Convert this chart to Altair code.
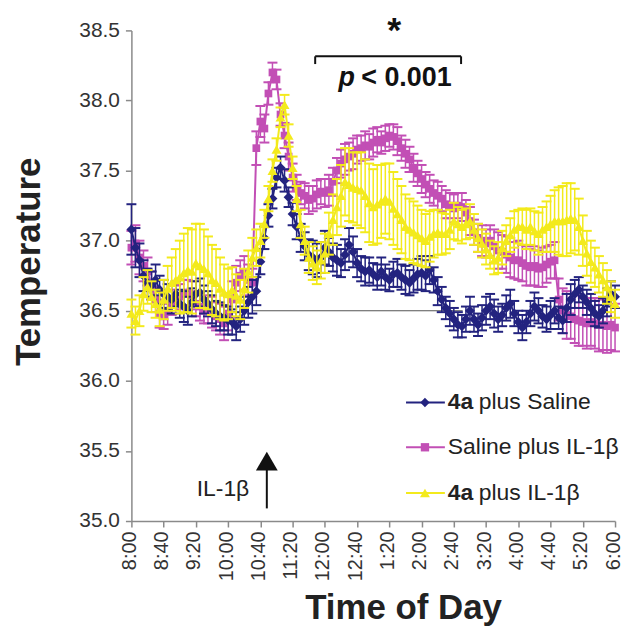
import altair as alt
import pandas as pd

# ---------------- data ----------------
minutes = list(range(0, 601, 5))          # minutes after 8:00, every 5 min
tick_minutes = list(range(0, 601, 40))
tick_labels = ["8:00", "8:40", "9:20", "10:00", "10:40", "11:20", "12:00", "12:40",
               "1:20", "2:00", "2:40", "3:20", "4:00", "4:40", "5:20", "6:00"]
y_ticks = [35.0, 35.5, 36.0, 36.5, 37.0, 37.5, 38.0, 38.5]

series_names = ["Saline plus IL-1β", "4a plus Saline", "4a plus IL-1β"]
series_colors = ["#c24fb5", "#23237f", "#f3ea1c"]
series_shapes = ["square", "diamond", "triangle-up"]
series_sizes = [60, 100, 100]

navy = [37.08, 36.95, 36.86, 36.75, 36.70, 36.68, 36.72, 36.65, 36.62, 36.60,
        36.58, 36.62, 36.55, 36.53, 36.50, 36.56, 36.62, 36.63, 36.58, 36.55,
        36.51, 36.48, 36.46, 36.45, 36.43, 36.42, 36.39, 36.44, 36.50, 36.56,
        36.60, 36.64, 36.85, 37.02, 37.18, 37.30, 37.45, 37.52, 37.43, 37.31,
        37.19, 37.10, 37.02, 36.96, 36.90, 36.88, 36.86, 36.88, 36.95, 36.92,
        36.88, 36.86, 36.84, 36.90, 36.97, 36.92, 36.84, 36.80, 36.78, 36.79,
        36.76, 36.74, 36.78, 36.74, 36.72, 36.76, 36.77, 36.74, 36.72, 36.70,
        36.73, 36.76, 36.77, 36.75, 36.79, 36.72, 36.64, 36.58, 36.52, 36.48,
        36.44, 36.40, 36.39, 36.44, 36.50, 36.44, 36.40, 36.45, 36.50, 36.53,
        36.48, 36.44, 36.47, 36.52, 36.55, 36.48, 36.42, 36.38, 36.42, 36.48,
        36.53, 36.50, 36.46, 36.44, 36.47, 36.50, 36.45, 36.43, 36.52, 36.58,
        36.62, 36.65, 36.60, 36.56, 36.52, 36.48, 36.46, 36.50, 36.56, 36.62, 36.60]
navy_err = [0.18, 0.14, 0.12, 0.11, 0.10, 0.10, 0.11, 0.10, 0.10, 0.09,
            0.10, 0.09, 0.10, 0.11, 0.10, 0.10, 0.09, 0.10, 0.10, 0.09,
            0.10, 0.09, 0.10, 0.09, 0.10, 0.09, 0.10, 0.09, 0.10, 0.11,
            0.12, 0.10, 0.09, 0.08, 0.08, 0.07, 0.07, 0.08, 0.08, 0.07,
            0.08, 0.09, 0.10, 0.10, 0.11, 0.12, 0.12, 0.11, 0.12, 0.10,
            0.10, 0.11, 0.10, 0.11, 0.12, 0.11, 0.10, 0.09, 0.10, 0.09,
            0.08, 0.09, 0.10, 0.09, 0.08, 0.09, 0.10, 0.09, 0.10, 0.09,
            0.10, 0.11, 0.12, 0.11, 0.10, 0.09, 0.10, 0.09, 0.08, 0.09,
            0.08, 0.09, 0.08, 0.09, 0.10, 0.09, 0.08, 0.09, 0.10, 0.09,
            0.10, 0.09, 0.08, 0.09, 0.10, 0.09, 0.08, 0.09, 0.08, 0.09,
            0.10, 0.09, 0.08, 0.09, 0.10, 0.09, 0.08, 0.09, 0.10, 0.11,
            0.10, 0.09, 0.08, 0.09, 0.10, 0.09, 0.08, 0.09, 0.10, 0.09, 0.08]

pink = [36.95, 36.98, 36.88, 36.82, 36.78, 36.68, 36.58, 36.48, 36.46, 36.50,
        36.56, 36.58, 36.60, 36.62, 36.63, 36.61, 36.55, 36.53, 36.50, 36.51,
        36.49, 36.46, 36.44, 36.41, 36.48, 36.58, 36.70, 36.75, 36.77, 36.72,
        36.70, 37.66, 37.85, 37.80, 38.05, 38.20, 38.15, 37.90, 37.75, 37.60,
        37.45, 37.38, 37.34, 37.32, 37.29, 37.30, 37.33, 37.35, 37.34, 37.36,
        37.42, 37.50, 37.55, 37.58, 37.60, 37.62, 37.65, 37.66, 37.68, 37.67,
        37.70, 37.72, 37.70, 37.73, 37.75, 37.74, 37.71, 37.66, 37.62, 37.58,
        37.52, 37.48, 37.44, 37.40, 37.37, 37.34, 37.32, 37.30, 37.26, 37.25,
        37.23, 37.25, 37.24, 37.20, 37.14, 37.06, 37.02, 37.00, 36.98, 37.00,
        36.96, 36.93, 36.92, 36.90, 36.88, 36.86, 36.86, 36.84, 36.82, 36.81,
        36.82, 36.80, 36.81, 36.83, 36.85, 36.86, 36.58, 36.50, 36.47, 36.46,
        36.44, 36.43, 36.42, 36.41, 36.42, 36.41, 36.40, 36.40, 36.39, 36.40, 36.38]
pink_err = [0.12, 0.13, 0.12, 0.11, 0.10, 0.10, 0.09, 0.10, 0.09, 0.10,
            0.09, 0.10, 0.09, 0.10, 0.09, 0.10, 0.09, 0.10, 0.09, 0.10,
            0.11, 0.10, 0.11, 0.12, 0.12, 0.13, 0.12, 0.11, 0.12, 0.11,
            0.10, 0.12, 0.11, 0.10, 0.08, 0.07, 0.07, 0.08, 0.09, 0.10,
            0.10, 0.09, 0.08, 0.09, 0.10, 0.09, 0.10, 0.09, 0.10, 0.11,
            0.10, 0.09, 0.10, 0.11, 0.10, 0.11, 0.10, 0.09, 0.10, 0.09,
            0.10, 0.09, 0.08, 0.09, 0.08, 0.09, 0.10, 0.09, 0.10, 0.09,
            0.10, 0.09, 0.10, 0.09, 0.10, 0.09, 0.10, 0.09, 0.10, 0.09,
            0.10, 0.09, 0.10, 0.09, 0.10, 0.09, 0.10, 0.11, 0.10, 0.11,
            0.12, 0.13, 0.12, 0.13, 0.14, 0.13, 0.14, 0.13, 0.14, 0.13,
            0.14, 0.13, 0.14, 0.13, 0.12, 0.13, 0.15, 0.16, 0.17, 0.16,
            0.17, 0.18, 0.17, 0.18, 0.17, 0.18, 0.19, 0.18, 0.19, 0.18, 0.17]

yellow = [36.48, 36.43, 36.50, 36.62, 36.67, 36.60, 36.55, 36.51, 36.58, 36.66,
          36.70, 36.72, 36.74, 36.77, 36.79, 36.78, 36.84, 36.82, 36.80, 36.77,
          36.72, 36.70, 36.66, 36.63, 36.62, 36.65, 36.61, 36.58, 36.66, 36.78,
          36.88, 36.95, 37.00, 37.12, 37.30, 37.50, 37.65, 37.88, 37.97, 37.75,
          37.52, 37.30, 37.12, 37.00, 36.88, 36.84, 36.81, 36.86, 36.91, 37.05,
          37.15, 37.24, 37.32, 37.42, 37.40, 37.38, 37.37, 37.36, 37.32, 37.27,
          37.24, 37.26, 37.28, 37.30, 37.28, 37.23, 37.19, 37.15, 37.10, 37.08,
          37.06, 37.04, 37.02, 37.00, 37.03, 37.05, 37.06, 37.05, 37.05, 37.08,
          37.14, 37.12, 37.10, 37.12, 37.14, 37.08, 37.02, 36.98, 36.94, 36.90,
          36.86, 36.88, 36.95, 37.00, 37.04, 37.08, 37.10, 37.10, 37.08, 37.10,
          37.07, 37.05, 37.08, 37.10, 37.12, 37.14, 37.14, 37.14, 37.15, 37.16,
          37.15, 37.10, 37.00, 36.91, 36.85, 36.81, 36.76, 36.72, 36.67, 36.60, 36.55]
yellow_err = [0.10, 0.10, 0.11, 0.12, 0.12, 0.11, 0.10, 0.12, 0.14, 0.16,
              0.18, 0.22, 0.26, 0.28, 0.30, 0.30, 0.28, 0.30, 0.28, 0.26,
              0.25, 0.24, 0.22, 0.20, 0.18, 0.16, 0.15, 0.14, 0.14, 0.15,
              0.14, 0.13, 0.12, 0.10, 0.09, 0.08, 0.08, 0.07, 0.07, 0.08,
              0.08, 0.09, 0.10, 0.10, 0.11, 0.12, 0.12, 0.13, 0.14, 0.15,
              0.18, 0.20, 0.22, 0.24, 0.26, 0.25, 0.26, 0.27, 0.26, 0.28,
              0.27, 0.28, 0.26, 0.25, 0.27, 0.26, 0.25, 0.24, 0.23, 0.22,
              0.22, 0.21, 0.20, 0.19, 0.18, 0.17, 0.16, 0.15, 0.14, 0.14,
              0.13, 0.12, 0.12, 0.11, 0.12, 0.11, 0.10, 0.10, 0.11, 0.10,
              0.10, 0.11, 0.12, 0.11, 0.12, 0.13, 0.12, 0.13, 0.14, 0.13,
              0.14, 0.15, 0.16, 0.18, 0.20, 0.22, 0.24, 0.25, 0.26, 0.25,
              0.22, 0.20, 0.18, 0.16, 0.15, 0.14, 0.13, 0.12, 0.12, 0.11, 0.10]

series_values = [pink, navy, yellow]
series_errors = [pink_err, navy_err, yellow_err]

# annotations (in data units)
ref_line = {"x": [150], "x2": [411], "y": [36.5]}
bracket_h = {"x": [228], "x2": [409], "y": [38.315]}
bracket_v = {"x": [228, 409], "y": [38.315, 38.315], "y2": [38.26, 38.26]}
arrow_shaft = {"x": [168], "y": [35.09], "y2": [35.40]}
arrow_head = {"x": [168], "y": [35.427]}
legend_rows_y = [35.846, 35.526, 35.200]
legend_order = ["4a plus Saline", "Saline plus IL-1β", "4a plus IL-1β"]
legend_bold = ["4a", "", "4a"]
legend_rest = ["plus Saline", "Saline plus IL-1β", "plus IL-1β"]

FONT = "Liberation Sans"
AX = "#8a8a8a"

xs = alt.Scale(domain=[0, 600], nice=False, zero=False)
ys = alt.Scale(domain=[35.0, 38.5], nice=False, zero=False)

label_js = "[" + ",".join("'%s'" % s for s in tick_labels) + "][round(datum.value/40)]"

x_axis = alt.Axis(values=tick_minutes, labelExpr=label_js, labelAngle=-90,
                  labelFont=FONT, labelFontSize=20, labelColor="#333333", labelPadding=4,
                  labelOffset=-2,
                  tickSize=6, tickColor=AX, tickWidth=1.5, domainColor=AX, domainWidth=1.5,
                  grid=False, title="Time of Day", titleFont=FONT, titleFontSize=35,
                  titleFontWeight="bold", titleColor="#222222", titleX=273, titleY=98,
                  titleBaseline="alphabetic", titleAlign="center")
y_axis = alt.Axis(values=y_ticks, format=".1f", labelFont=FONT, labelFontSize=21,
                  labelColor="#333333", labelPadding=6, tickSize=6, tickColor=AX,
                  tickWidth=1.5, domainColor=AX, domainWidth=1.5, grid=False,
                  title="Temperature", titleFont=FONT, titleFontSize=35,
                  titleFontWeight="bold", titleColor="#222222", titleAngle=-90,
                  titleX=-92, titleY=232, titleBaseline="alphabetic", titleAlign="center")


def X(f):
    return alt.X(f, type="quantitative", scale=xs, axis=x_axis)


def Y(f):
    return alt.Y(f, type="quantitative", scale=ys, axis=y_axis)


layers = []

# reference line at 36.5
layers.append(alt.Chart(pd.DataFrame(ref_line)).mark_rule(color="#555555", strokeWidth=1.2)
              .encode(x=X("x"), x2=alt.X2("x2"), y=Y("y")))

for name, col, shp, sz, vals, errs in zip(series_names, series_colors, series_shapes,
                                          series_sizes, series_values, series_errors):
    df = pd.DataFrame({"t": minutes, "v": vals, "e": errs})
    df["lo"] = df["v"] - df["e"]
    df["hi"] = df["v"] + df["e"]
    base = alt.Chart(df)
    layers.append(base.mark_rule(color=col, strokeWidth=1.5)
                  .encode(x=X("t"), y=Y("lo"), y2=alt.Y2("hi")))
    layers.append(base.mark_tick(color=col, orient="horizontal", size=10, thickness=2, opacity=1)
                  .encode(x=X("t"), y=Y("hi")))
    layers.append(base.mark_tick(color=col, orient="horizontal", size=10, thickness=2, opacity=1)
                  .encode(x=X("t"), y=Y("lo")))
    layers.append(base.mark_line(color=col, strokeWidth=2).encode(x=X("t"), y=Y("v")))
    layers.append(base.mark_point(shape=shp, filled=True, size=sz, color=col, opacity=1)
                  .encode(x=X("t"), y=Y("v")))

# bracket and significance text
layers.append(alt.Chart(pd.DataFrame(bracket_h)).mark_rule(color="#111111", strokeWidth=2)
              .encode(x=X("x"), x2=alt.X2("x2"), y=Y("y")))
layers.append(alt.Chart(pd.DataFrame(bracket_v)).mark_rule(color="#111111", strokeWidth=2)
              .encode(x=X("x"), y=Y("y"), y2=alt.Y2("y2")))
layers.append(alt.Chart(pd.DataFrame({"x": [326], "y": [38.415], "s": ["*"]}))
              .mark_text(font=FONT, fontSize=36, fontWeight="bold", color="#111111",
                         align="center", baseline="alphabetic")
              .encode(x=X("x"), y=Y("y"), text="s:N"))
layers.append(alt.Chart(pd.DataFrame({"x": [256.8], "y": [38.10], "s": ["p"]}))
              .mark_text(font=FONT, fontSize=27, fontWeight="bold", fontStyle="italic",
                         color="#111111", align="left", baseline="alphabetic")
              .encode(x=X("x"), y=Y("y"), text="s:N"))
layers.append(alt.Chart(pd.DataFrame({"x": [285.2], "y": [38.10], "s": ["< 0.001"]}))
              .mark_text(font=FONT, fontSize=27, fontWeight="bold", color="#111111",
                         align="left", baseline="alphabetic")
              .encode(x=X("x"), y=Y("y"), text="s:N"))

# IL-1β arrow
layers.append(alt.Chart(pd.DataFrame(arrow_shaft)).mark_rule(color="#111111", strokeWidth=2)
              .encode(x=X("x"), y=Y("y"), y2=alt.Y2("y2")))
layers.append(alt.Chart(pd.DataFrame(arrow_head))
              .mark_point(shape="triangle-up", filled=True, size=480, color="#111111", opacity=1)
              .encode(x=X("x"), y=Y("y")))
layers.append(alt.Chart(pd.DataFrame({"x": [113.6], "y": [35.228], "s": ["IL-1β"]}))
              .mark_text(font=FONT, fontSize=23, color="#222222", align="center", baseline="middle")
              .encode(x=X("x"), y=Y("y"), text="s:N"))

# custom legend
leg_color = {n: c for n, c in zip(series_names, series_colors)}
leg_shape = {n: s for n, s in zip(series_names, series_shapes)}
leg_size = {"4a plus Saline": 90, "Saline plus IL-1β": 70, "4a plus IL-1β": 100}
for ly, nm, bold, rest in zip(legend_rows_y, legend_order, legend_bold, legend_rest):
    c = leg_color[nm]
    layers.append(alt.Chart(pd.DataFrame({"x": [340.7], "x2": [388.9], "y": [ly]}))
                  .mark_rule(color=c, strokeWidth=2).encode(x=X("x"), x2=alt.X2("x2"), y=Y("y")))
    layers.append(alt.Chart(pd.DataFrame({"x": [364.2], "y": [ly]}))
                  .mark_point(shape=leg_shape[nm], filled=True, size=leg_size[nm], color=c, opacity=1)
                  .encode(x=X("x"), y=Y("y")))
    rest_x = 392.6
    if bold:
        layers.append(alt.Chart(pd.DataFrame({"x": [392.6], "y": [ly], "s": [bold]}))
                      .mark_text(font=FONT, fontSize=23, fontWeight="bold", color="#222222",
                                 align="left", baseline="middle")
                      .encode(x=X("x"), y=Y("y"), text="s:N"))
        rest_x = 431.0
    layers.append(alt.Chart(pd.DataFrame({"x": [rest_x], "y": [ly], "s": [rest]}))
                  .mark_text(font=FONT, fontSize=23, color="#222222", align="left", baseline="middle")
                  .encode(x=X("x"), y=Y("y"), text="s:N"))

chart = alt.layer(*layers).properties(
    width=486, height=493,
    autosize=alt.AutoSizeParams(type="none"),
    padding={"left": 124, "top": 21, "right": 8, "bottom": 108},
    background="white",
).configure_view(stroke=None)

chart.save("out.html", embed_options={"renderer": "svg", "actions": False})
